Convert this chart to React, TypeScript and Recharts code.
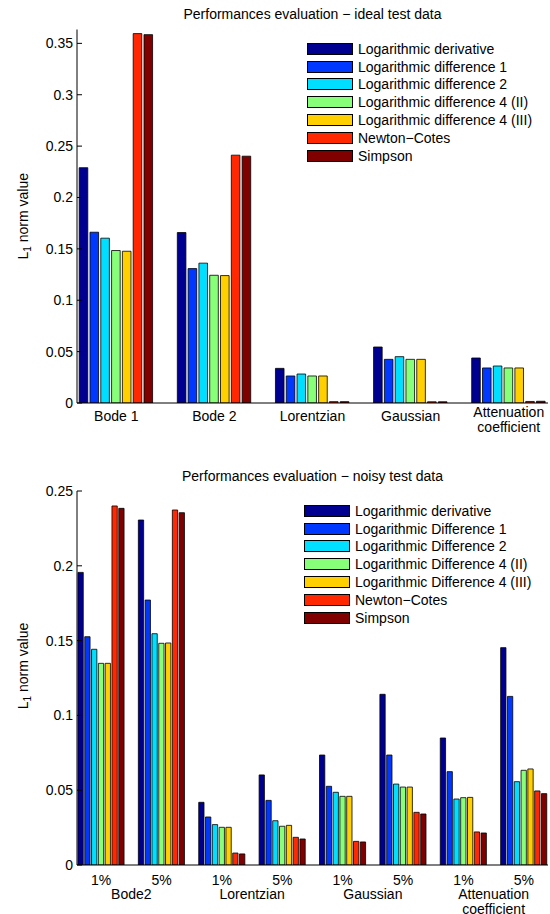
import { BarChart, Bar, XAxis, YAxis, Legend } from 'recharts';

const FONT = '"Liberation Sans", Arial, Helvetica, sans-serif';
const COLORS = ['#000090', '#0038ff', '#00dfff', '#87ff78', '#ffcf00', '#ff2800', '#800000'];
const KEYS = ['s0', 's1', 's2', 's3', 's4', 's5', 's6'];

// ideal test data
const idealCategories = ['Bode 1', 'Bode 2', 'Lorentzian', 'Gaussian', 'Attenuation\ncoefficient'];
const idealNames = [
  'Logarithmic derivative',
  'Logarithmic difference 1',
  'Logarithmic difference 2',
  'Logarithmic difference 4 (II)',
  'Logarithmic difference 4 (III)',
  'Newton\u2212Cotes',
  'Simpson',
];
const idealLogDerivative = [0.229, 0.1659, 0.0337, 0.0545, 0.0438];
const idealLogDiff1 = [0.1662, 0.1308, 0.0263, 0.0425, 0.0341];
const idealLogDiff2 = [0.1604, 0.1361, 0.0282, 0.0451, 0.036];
const idealLogDiff4II = [0.1484, 0.1243, 0.0263, 0.0425, 0.0341];
const idealLogDiff4III = [0.1477, 0.124, 0.0263, 0.0425, 0.0341];
const idealNewtonCotes = [0.3595, 0.2412, 0.0013, 0.0012, 0.0015];
const idealSimpson = [0.3585, 0.2402, 0.0013, 0.0012, 0.0017];
const idealTicks = [0, 0.05, 0.1, 0.15, 0.2, 0.25, 0.3, 0.35];

// noisy test data
const noiseLevels = ['1%', '5%', '1%', '5%', '1%', '5%', '1%', '5%'];
const noisyGroups = ['Bode2', 'Lorentzian', 'Gaussian', 'Attenuation\ncoefficient'];
const noisyNames = [
  'Logarithmic derivative',
  'Logarithmic Difference 1',
  'Logarithmic Difference 2',
  'Logarithmic Difference 4 (II)',
  'Logarithmic Difference 4 (III)',
  'Newton\u2212Cotes',
  'Simpson',
];
const noisyLogDerivative = [0.1956, 0.2306, 0.0419, 0.0602, 0.0735, 0.1141, 0.0849, 0.1453];
const noisyLogDiff1 = [0.1526, 0.1771, 0.0321, 0.0432, 0.0526, 0.0735, 0.0624, 0.1127];
const noisyLogDiff2 = [0.1442, 0.1546, 0.027, 0.0296, 0.0486, 0.0541, 0.0441, 0.0557];
const noisyLogDiff4II = [0.1348, 0.1482, 0.0252, 0.0259, 0.0459, 0.0521, 0.045, 0.0633];
const noisyLogDiff4III = [0.1348, 0.1484, 0.0252, 0.0265, 0.0459, 0.0521, 0.0452, 0.0642];
const noisyNewtonCotes = [0.24, 0.2373, 0.008, 0.0185, 0.0158, 0.0352, 0.0221, 0.0495];
const noisySimpson = [0.2384, 0.2355, 0.0074, 0.0174, 0.0154, 0.0341, 0.0214, 0.0477];
const noisyTicks = [0, 0.05, 0.1, 0.15, 0.2, 0.25];

const buildRows = (n: number, series: number[][]) =>
  Array.from({ length: n }, (_, i) => {
    const row: any = { x: i + 1 };
    series.forEach((s, j) => (row[KEYS[j]] = s[i]));
    return row;
  });

const idealRows = buildRows(idealCategories.length, [
  idealLogDerivative, idealLogDiff1, idealLogDiff2, idealLogDiff4II, idealLogDiff4III, idealNewtonCotes, idealSimpson,
]);
const noisyRows = buildRows(noiseLevels.length, [
  noisyLogDerivative, noisyLogDiff1, noisyLogDiff2, noisyLogDiff4II, noisyLogDiff4III, noisyNewtonCotes, noisySimpson,
]);

const PLOT_W = 550 - 77 - 2;
const HALF_STEP = PLOT_W / 7.8 / 2;

const fmt = (v: number) => String(Number(v.toFixed(2)));

const LegendBox = ({ names }: { names: string[] }) => (
  <div style={{ fontFamily: FONT, fontSize: 14, color: '#000' }}>
    {names.map((n, i) => (
      <div key={n} style={{ display: 'flex', alignItems: 'center', height: 17.8, whiteSpace: 'nowrap' }}>
        <span
          style={{
            width: 46,
            height: 12,
            background: COLORS[i],
            border: '1px solid #000',
            boxSizing: 'border-box',
            marginRight: 5,
          }}
        />
        <span>{n}</span>
      </div>
    ))}
  </div>
);

const YLabel = (props: any) => {
  const { viewBox, shift } = props;
  const x = 23;
  const y = viewBox.y + viewBox.height / 2 + shift;
  return (
    <text
      x={x}
      y={y}
      transform={`rotate(-90 ${x} ${y})`}
      textAnchor="middle"
      dominantBaseline="central"
      fontSize={14}
      fontFamily={FONT}
      fill="#000"
    >
      L
      <tspan dy={4} fontSize={10}>1</tspan>
      <tspan dy={-4}> norm value</tspan>
    </text>
  );
};

const IdealTick = ({ x, y, payload }: any) => {
  const lines = idealCategories[payload.value - 1].split('\n');
  return (
    <text x={x} y={y} fill="#000" fontSize={14} fontFamily={FONT} textAnchor="middle">
      {lines.map((l, i) => (
        <tspan key={i} x={x} dy={i === 0 ? (lines.length > 1 ? 14 : 17.5) : 15}>
          {l}
        </tspan>
      ))}
    </text>
  );
};

const NoisyTick = ({ x, y, payload }: any) => {
  const i = payload.value - 1;
  const gx = x + HALF_STEP;
  const lines = i % 2 === 0 ? noisyGroups[i / 2].split('\n') : [];
  return (
    <g>
      <text x={x} y={y + 20} fill="#000" fontSize={14} fontFamily={FONT} textAnchor="middle">
        {noiseLevels[i]}
      </text>
      {lines.length > 0 && (
        <text x={gx} y={y + 34} fill="#000" fontSize={14} fontFamily={FONT} textAnchor="middle">
          {lines.map((l, k) => (
            <tspan key={k} x={gx} dy={k === 0 ? 0 : 15}>
              {l}
            </tspan>
          ))}
        </text>
      )}
    </g>
  );
};

const tickStyle = { fill: '#000', fontSize: 14, fontFamily: FONT };

const Title = ({ text, top }: { text: string; top: number }) => (
  <div
    style={{
      position: 'absolute',
      left: 77,
      width: PLOT_W,
      top,
      textAlign: 'center',
      fontFamily: FONT,
      fontSize: 14,
      lineHeight: '16px',
      color: '#000',
      whiteSpace: 'nowrap',
    }}
  >
    {text}
  </div>
);

function Panel(props: {
  rows: any[];
  height: number;
  top: number;
  xBottom: number;
  n: number;
  yMax: number;
  yTicks: number[];
  names: string[];
  barSize: number;
  barGap: number;
  tick: any;
  legendTop: number;
  legendLeft: number;
  labelShift: number;
}) {
  const xTicks = Array.from({ length: props.n }, (_, i) => i + 1);
  const xDomain = [0.6, props.n + 0.4];
  return (
    <BarChart
      width={550}
      height={props.height}
      data={props.rows}
      margin={{ top: props.top, right: 2, left: 0, bottom: 0 }}
      barGap={props.barGap}
    >
      <XAxis
        type="number"
        dataKey="x"
        domain={xDomain}
        ticks={xTicks}
        interval={0}
        allowDataOverflow
        height={props.xBottom}
        tickSize={0}
        tickMargin={0}
        tickLine={false}
        axisLine={{ stroke: '#000' }}
        tick={props.tick}
      />
      <XAxis
        xAxisId="top"
        orientation="top"
        type="number"
        dataKey="x"
        domain={xDomain}
        ticks={xTicks}
        interval={0}
        allowDataOverflow
        height={0}
        tickSize={-5}
        tick={false}
        tickLine={{ stroke: '#000' }}
        axisLine={{ stroke: '#000' }}
      />
      <YAxis
        width={77}
        domain={[0, props.yMax]}
        ticks={props.yTicks}
        interval={0}
        allowDataOverflow
        tickSize={-5}
        tickMargin={9}
        tickFormatter={fmt}
        tick={tickStyle}
        tickLine={{ stroke: '#000' }}
        axisLine={{ stroke: '#000' }}
        label={(p: any) => <YLabel {...p} shift={props.labelShift} />}
      />
      <YAxis
        yAxisId="right"
        orientation="right"
        width={0}
        domain={[0, props.yMax]}
        ticks={props.yTicks}
        interval={0}
        allowDataOverflow
        tickSize={-5}
        tick={false}
        tickLine={{ stroke: '#000' }}
        axisLine={{ stroke: '#000' }}
      />
      <Legend
        layout="horizontal"
        verticalAlign="middle"
        align="center"
        wrapperStyle={{ top: props.legendTop, left: props.legendLeft, width: 'auto', height: 'auto' }}
        content={() => <LegendBox names={props.names} />}
      />
      {KEYS.map((k, j) => (
        <Bar
          key={k}
          dataKey={k}
          name={props.names[j]}
          fill={COLORS[j]}
          stroke="#000"
          strokeWidth={0.8}
          barSize={props.barSize}
          isAnimationActive={false}
        />
      ))}
    </BarChart>
  );
}

export default function App() {
  return (
    <div
      style={{
        position: 'absolute',
        left: 0,
        top: 0,
        width: 550,
        height: 914,
        background: '#fff',
        overflow: 'hidden',
        fontFamily: FONT,
      }}
    >
      <div style={{ position: 'relative', width: 550, height: 450 }}>
        <Panel
          rows={idealRows}
          height={450}
          top={29.5}
          xBottom={47}
          n={idealCategories.length}
          yMax={0.3635}
          yTicks={idealTicks}
          names={idealNames}
          barSize={8.6}
          barGap={2.2}
          tick={<IdealTick />}
          legendTop={40}
          legendLeft={307}
          labelShift={0}
        />
        <Title text={'Performances evaluation \u2212 ideal test data'} top={6} />
      </div>
      <div style={{ position: 'relative', width: 550, height: 464 }}>
        <Panel
          rows={noisyRows}
          height={464}
          top={41}
          xBottom={49}
          n={noiseLevels.length}
          yMax={0.25}
          yTicks={noisyTicks}
          names={noisyNames}
          barSize={5.3}
          barGap={1.5}
          tick={<NoisyTick />}
          legendTop={52}
          legendLeft={304}
          labelShift={-12}
        />
        <Title text={'Performances evaluation \u2212 noisy test data'} top={18} />
      </div>
    </div>
  );
}
